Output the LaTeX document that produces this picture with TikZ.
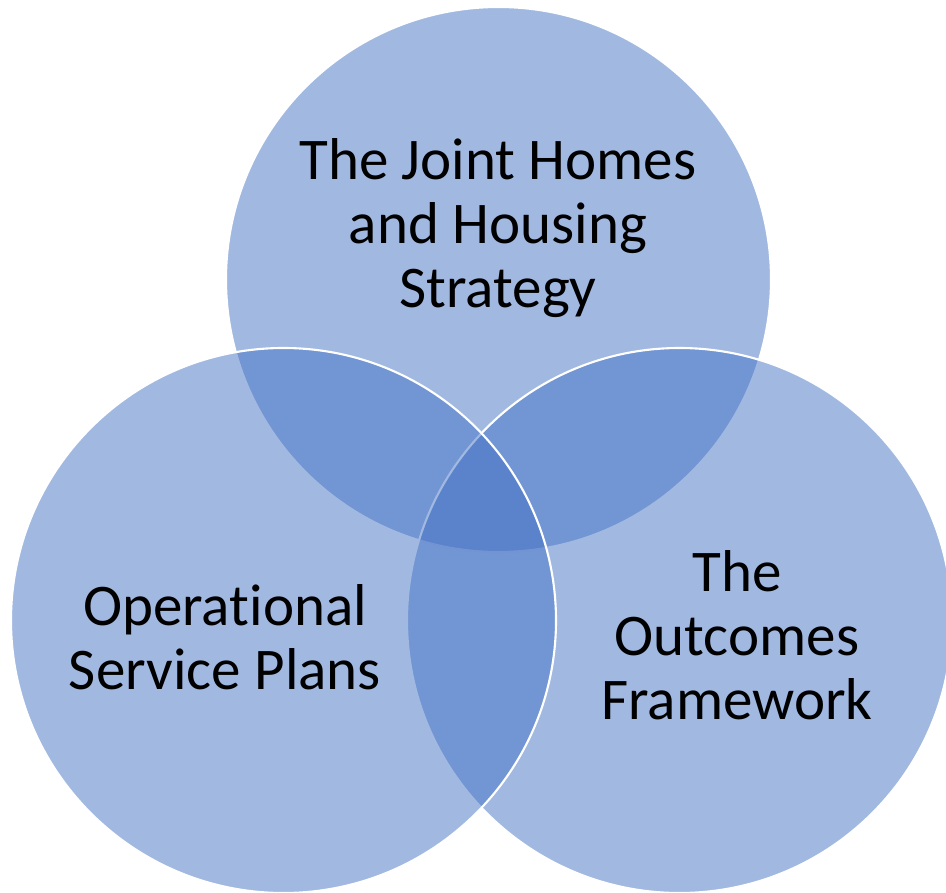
\documentclass[tikz,border=0pt]{standalone}
\usepackage{fontspec}
\setmainfont[Ligatures=NoCommon]{Carlito}
\usepackage{xcolor}
\usepackage{tikz}
\usetikzlibrary{shapes,positioning}
\definecolor{vennblue}{RGB}{68,114,196}

\begin{document}
\begin{tikzpicture}[
    venn/.style={circle, draw=white, line width=1.5pt, fill=vennblue, fill opacity=0.5, minimum size=13.625cm, inner sep=0pt, outer sep=0pt},
    lbl/.style={align=center, text=black, font=\fontsize{42pt}{45.5pt}\selectfont}
  ]
    \useasboundingbox (0,0) rectangle (23.65,22.3);

    % top circle goes first, so the other two fade its rim
    \node[venn] (housing) at (12.4625,15.3125) {};
    \node[venn] (outcomes) at (16.9875,6.7875) {};
    \node[venn] (service) at (7.0875,6.7875) {};

    \node[lbl] (housingtext) at (12.45,16.6) {The Joint Homes\\and Housing\\Strategy};
    \node[lbl] (servicetext) at (5.625,6.38) {Operational\\Service Plans};
    \node[lbl] (outcomestext) at (18.425,6.42) {The\\Outcomes\\Framework};
  \end{tikzpicture}
\end{document}
